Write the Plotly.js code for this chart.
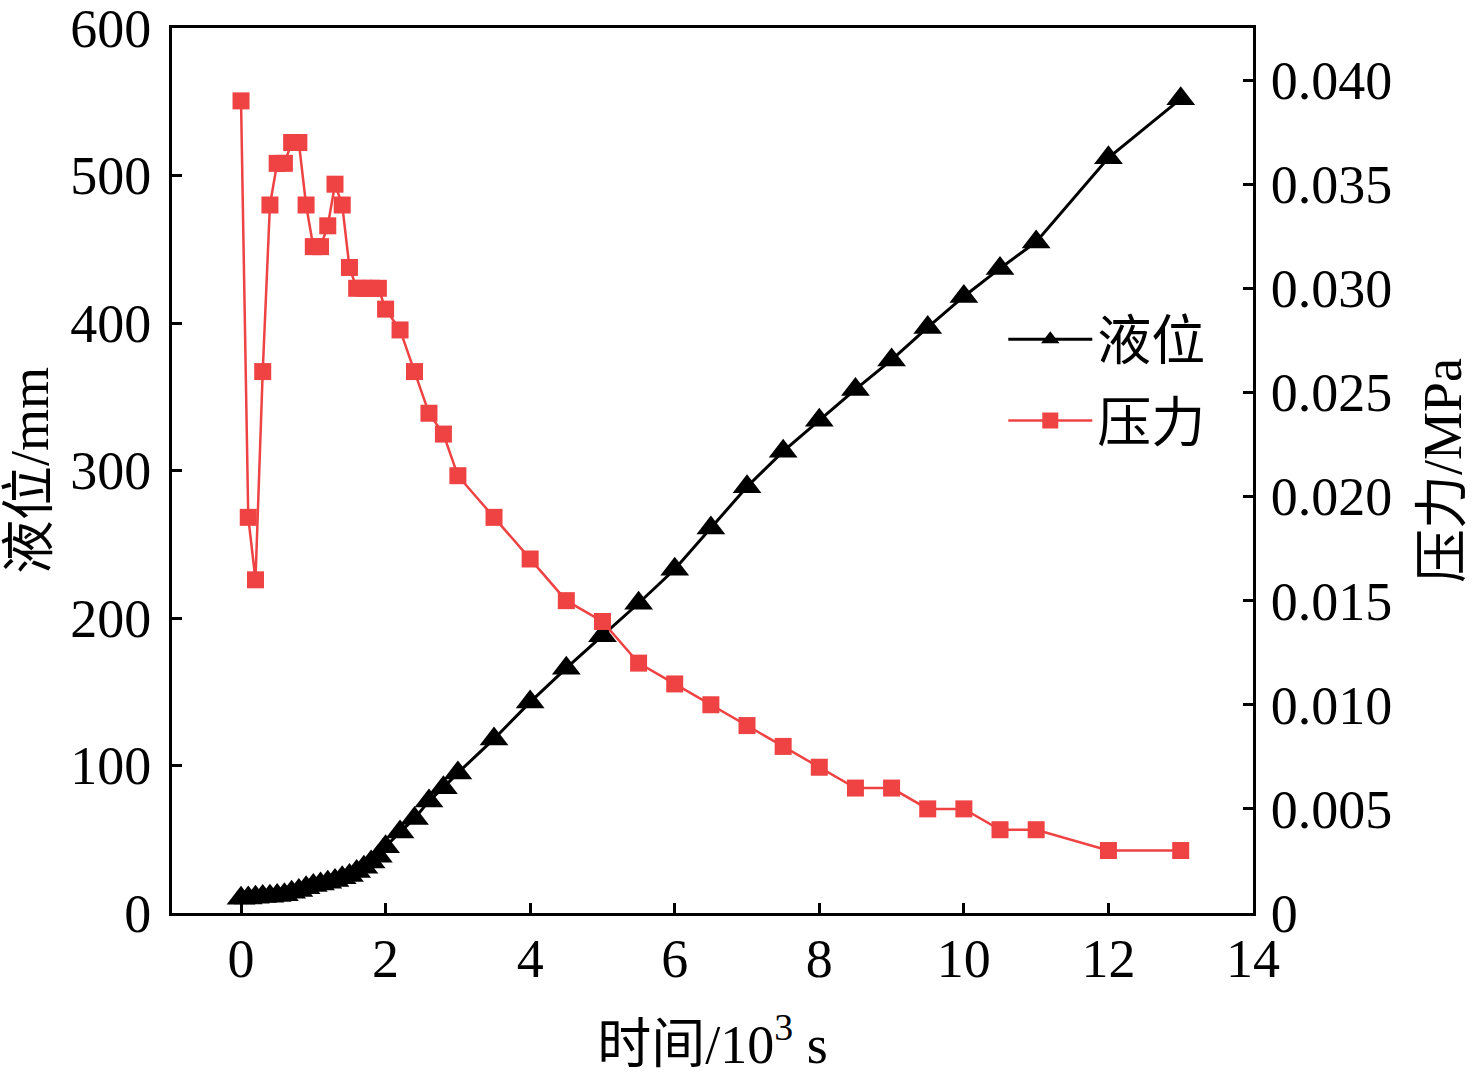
<!DOCTYPE html>
<html>
<head>
<meta charset="utf-8">
<script src="https://cdn.plot.ly/plotly-3.0.1.min.js"></script>
<style>body{margin:0;background:#fff}</style>
</head>
<body>
<div id="chart" style="width:1476px;height:1080px"></div>
<script>
// time in 10^3 s
const time = [0, 0.1, 0.2, 0.3, 0.4, 0.5, 0.6, 0.7, 0.8, 0.9, 1.0, 1.1, 1.2, 1.3, 1.4, 1.5, 1.6, 1.7, 1.8, 1.9, 2.0,
  2.2, 2.4, 2.6, 2.8, 3.0,
  3.5, 4, 4.5, 5, 5.5, 6, 6.5, 7, 7.5, 8, 8.5, 9, 9.5, 10, 10.5, 11,
  12, 13];

// liquid level, mm
const level = [10, 10.2, 10.7, 11.2, 11.4, 11.9, 12.3, 14.1, 15.3, 17.1, 18.6, 19.7, 20.9, 22.0, 23.9, 25.4, 28.1, 31.1, 34.5, 38.5, 45,
  55, 64, 76, 85, 95,
  118, 143, 166, 188, 210, 233, 261, 289, 313, 334, 355, 375, 397, 418, 437, 455,
  512, 552];

// pressure, MPa
const pressure = [0.039, 0.019, 0.016, 0.026, 0.034, 0.036, 0.036, 0.037, 0.037, 0.034, 0.032, 0.032, 0.033, 0.035, 0.034, 0.031, 0.030, 0.030, 0.030, 0.030, 0.029,
  0.028, 0.026, 0.024, 0.023, 0.021,
  0.019, 0.017, 0.015, 0.014, 0.012, 0.011, 0.010, 0.009, 0.008, 0.007, 0.006, 0.006, 0.005, 0.005, 0.004, 0.004,
  0.003, 0.003];

const xTicks = [0, 2, 4, 6, 8, 10, 12, 14];
const levelTicks = [0, 100, 200, 300, 400, 500, 600];
const pressureTicks = [0, 0.005, 0.010, 0.015, 0.020, 0.025, 0.030, 0.035, 0.040];
const pressureTickText = ['0', '0.005', '0.010', '0.015', '0.020', '0.025', '0.030', '0.035', '0.040'];

const red = '#ee4243';
const fontFamily = '"Liberation Serif", "Noto Sans CJK SC", serif';

const axisStyle = {
  showline: true,
  linewidth: 3,
  linecolor: '#000',
  ticks: 'inside',
  ticklen: 10,
  tickwidth: 3,
  tickcolor: '#000',
  showgrid: false,
  zeroline: false,
  ticklabeloverflow: 'allow',
  fixedrange: true
};

const data = [
  {
    x: time,
    y: level,
    name: '液位',
    legendgroup: 'a',
    type: 'scatter',
    mode: 'lines+markers',
    line: { color: '#000', width: 3 },
    marker: { symbol: 'triangle-up', size: 25, color: '#000' },
    yaxis: 'y'
  },
  {
    x: time,
    y: pressure,
    name: '压力',
    legendgroup: 'b',
    type: 'scatter',
    mode: 'lines+markers',
    line: { color: red, width: 2.5 },
    marker: { symbol: 'square', size: 17, color: red },
    yaxis: 'y2'
  }
];

const layout = {
  width: 1476,
  height: 1080,
  margin: { l: 172, r: 223, t: 28, b: 167 },
  paper_bgcolor: '#fff',
  plot_bgcolor: '#fff',
  font: { family: fontFamily, size: 54, color: '#000' },
  showlegend: true,
  legend: {
    x: 0.769,
    y: 0.602,
    xanchor: 'left',
    yanchor: 'middle',
    bgcolor: 'rgba(0,0,0,0)',
    font: { family: fontFamily, size: 54, color: '#000' },
    itemwidth: 84,
    tracegroupgap: 8
  },
  xaxis: Object.assign({}, axisStyle, {
    range: [-0.955, 14],
    tickvals: xTicks,
    mirror: true,
    ticklabelstandoff: -4,
    title: { text: '时间/10<sup>3</sup> s', font: { size: 54 }, standoff: 38 }
  }),
  yaxis: Object.assign({}, axisStyle, {
    range: [0, 600],
    tickvals: levelTicks,
    ticklabelstandoff: 7,
    title: { text: '液位/mm', font: { size: 54 }, standoff: 27 }
  }),
  yaxis2: Object.assign({}, axisStyle, {
    overlaying: 'y',
    side: 'right',
    range: [0, 0.0425],
    tickvals: pressureTicks,
    ticktext: pressureTickText,
    ticklabelstandoff: 4,
    title: { text: '压力/MPa', font: { size: 54 }, standoff: 32 }
  })
};

Plotly.newPlot('chart', data, layout, { staticPlot: true });
</script>
</body>
</html>
